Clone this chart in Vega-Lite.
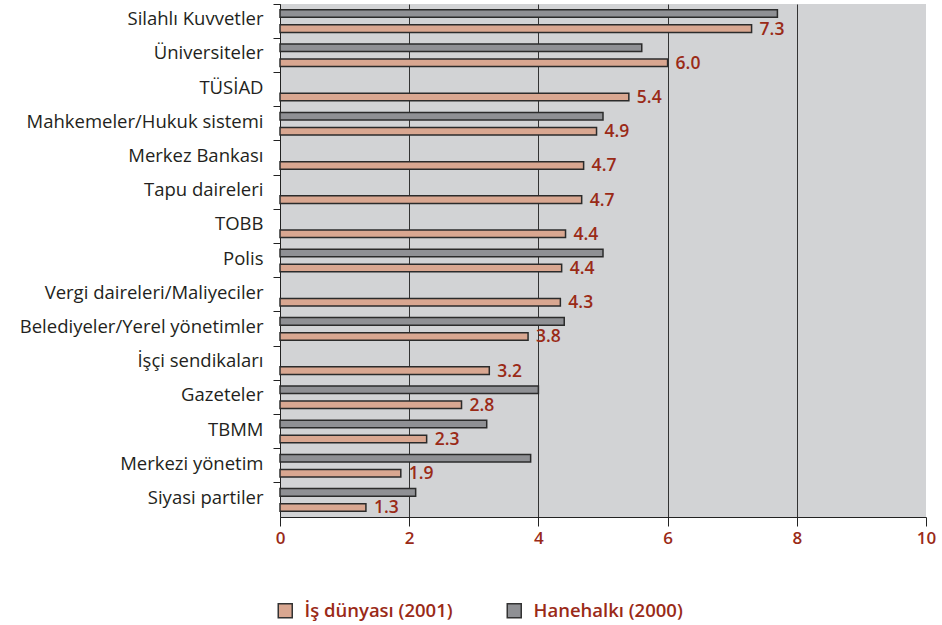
{
  "$schema": "https://vega.github.io/schema/vega-lite/v6.json",
  "width": 646,
  "height": 513,
  "autosize": "none",
  "padding": {"left": 280, "top": 4, "right": 16, "bottom": 108},
  "background": "white",
  "config": {"view": {"fill": "#d2d3d5", "stroke": null}, "font": "Open Sans"},
  "data": {
    "values": [
      {"kurum": "Silahlı Kuvvetler", "seri": "Hanehalkı (2000)", "deger": 7.7},
      {"kurum": "Silahlı Kuvvetler", "seri": "İş dünyası (2001)", "deger": 7.3},
      {"kurum": "Üniversiteler", "seri": "Hanehalkı (2000)", "deger": 5.6},
      {"kurum": "Üniversiteler", "seri": "İş dünyası (2001)", "deger": 6.0},
      {"kurum": "TÜSİAD", "seri": "İş dünyası (2001)", "deger": 5.4},
      {"kurum": "Mahkemeler/Hukuk sistemi", "seri": "Hanehalkı (2000)", "deger": 5.0},
      {"kurum": "Mahkemeler/Hukuk sistemi", "seri": "İş dünyası (2001)", "deger": 4.9},
      {"kurum": "Merkez Bankası", "seri": "İş dünyası (2001)", "deger": 4.7},
      {"kurum": "Tapu daireleri", "seri": "İş dünyası (2001)", "deger": 4.67},
      {"kurum": "TOBB", "seri": "İş dünyası (2001)", "deger": 4.42},
      {"kurum": "Polis", "seri": "Hanehalkı (2000)", "deger": 5.0},
      {"kurum": "Polis", "seri": "İş dünyası (2001)", "deger": 4.36},
      {"kurum": "Vergi daireleri/Maliyeciler", "seri": "İş dünyası (2001)", "deger": 4.34},
      {"kurum": "Belediyeler/Yerel yönetimler", "seri": "Hanehalkı (2000)", "deger": 4.4},
      {"kurum": "Belediyeler/Yerel yönetimler", "seri": "İş dünyası (2001)", "deger": 3.84},
      {"kurum": "İşçi sendikaları", "seri": "İş dünyası (2001)", "deger": 3.24},
      {"kurum": "Gazeteler", "seri": "Hanehalkı (2000)", "deger": 4.0},
      {"kurum": "Gazeteler", "seri": "İş dünyası (2001)", "deger": 2.81},
      {"kurum": "TBMM", "seri": "Hanehalkı (2000)", "deger": 3.2},
      {"kurum": "TBMM", "seri": "İş dünyası (2001)", "deger": 2.27},
      {"kurum": "Merkezi yönetim", "seri": "Hanehalkı (2000)", "deger": 3.88},
      {"kurum": "Merkezi yönetim", "seri": "İş dünyası (2001)", "deger": 1.87},
      {"kurum": "Siyasi partiler", "seri": "Hanehalkı (2000)", "deger": 2.1},
      {"kurum": "Siyasi partiler", "seri": "İş dünyası (2001)", "deger": 1.33}
    ]
  },
  "encoding": {
    "y": {
      "field": "kurum",
      "type": "nominal",
      "sort": ["Silahlı Kuvvetler", "Üniversiteler", "TÜSİAD", "Mahkemeler/Hukuk sistemi", "Merkez Bankası", "Tapu daireleri", "TOBB", "Polis", "Vergi daireleri/Maliyeciler", "Belediyeler/Yerel yönetimler", "İşçi sendikaları", "Gazeteler", "TBMM", "Merkezi yönetim", "Siyasi partiler"],
      "scale": {"paddingInner": 0, "paddingOuter": 0},
      "axis": {
        "title": null,
        "bandPosition": 0,
        "tickSize": 7,
        "tickColor": "#222222",
        "domainColor": "#222222",
        "labelPadding": 10,
        "labelLimit": 300,
        "labelFontSize": 18.5,
        "labelFontWeight": 500,
        "labelColor": "#231f20",
        "labelOffset": -2
      }
    },
    "x": {
      "field": "deger",
      "type": "quantitative",
      "scale": {"domain": [0, 10], "nice": false},
      "axis": {
        "title": null,
        "values": [0, 2, 4, 6, 8, 10],
        "grid": true,
        "gridColor": "#333333",
        "gridOpacity": {"condition": {"test": "datum.value == 10", "value": 0}, "value": 1},
        "tickSize": 9,
        "tickColor": "#222222",
        "domainColor": "#222222",
        "labelFlush": false,
        "labelPadding": 4,
        "labelFontSize": 17,
        "labelFontWeight": 600,
        "labelColor": "#9a2a17"
      }
    },
    "yOffset": {
      "field": "seri",
      "scale": {"domain": ["Hanehalkı (2000)", "İş dünyası (2001)"], "paddingInner": 0.5, "paddingOuter": 0.383}
    }
  },
  "layer": [
    {
      "mark": {"type": "bar", "stroke": "#2b2b2b", "strokeWidth": 1.5},
      "encoding": {
        "color": {
          "field": "seri",
          "type": "nominal",
          "scale": {"domain": ["İş dünyası (2001)", "Hanehalkı (2000)"], "range": ["#d9a791", "#8f9094"]},
          "legend": {
            "title": null,
            "orient": "none",
            "direction": "horizontal",
            "legendX": -4,
            "legendY": 597,
            "symbolType": "square",
            "symbolSize": 196,
            "symbolStrokeColor": "#333333",
            "symbolStrokeWidth": 1.5,
            "labelColor": "#9a2a17",
            "labelFontSize": 18.5,
            "labelFontWeight": 600,
            "labelOffset": 10,
            "labelLimit": 300,
            "columnPadding": 51
          }
        }
      }
    },
    {
      "transform": [{"filter": "datum.seri == 'İş dünyası (2001)'"}],
      "mark": {"type": "text", "align": "left", "baseline": "middle", "dx": 8, "dy": 1, "fontSize": 17.5, "fontWeight": 600, "color": "#9a2a17"},
      "encoding": {
        "text": {"field": "deger", "type": "quantitative", "format": ".1f"}
      }
    }
  ]
}
